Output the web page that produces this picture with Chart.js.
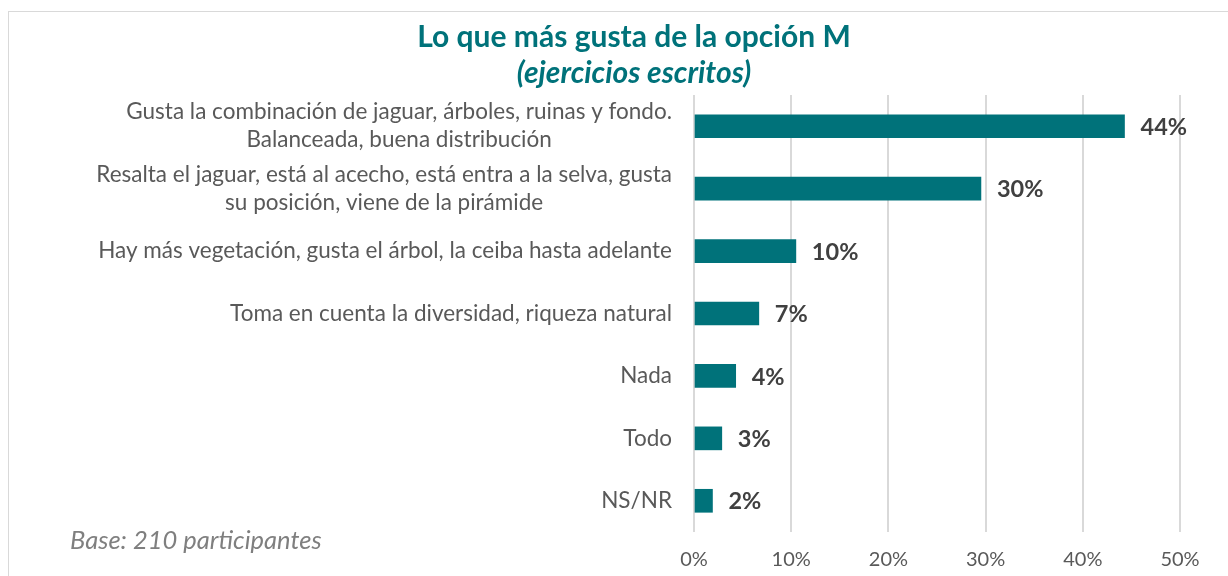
<!DOCTYPE html>
<html><head><meta charset="utf-8">
<script src="https://cdn.jsdelivr.net/npm/chart.js@4.4.0/dist/chart.umd.min.js"></script>
<style>
html,body{margin:0;padding:0;background:#fff;overflow:hidden}
#frame{position:absolute;left:8px;top:11px;width:1300px;height:700px;border:1px solid #d9d9d9;box-sizing:border-box}
#wrap{position:absolute;left:0;top:0;width:1228px;height:576px}
</style></head><body>
<div id="frame"></div>
<div id="wrap"><canvas id="c" width="1228" height="576"></canvas></div>
<script>
const categories = [
  ["Gusta la combinación de jaguar, árboles, ruinas y fondo.", "Balanceada, buena distribución"],
  ["Resalta el jaguar, está al acecho, está entra a la selva, gusta", "su posición, viene de la pirámide"],
  ["Hay más vegetación, gusta el árbol, la ceiba hasta adelante"],
  ["Toma en cuenta la diversidad, riqueza natural"],
  ["Nada"],
  ["Todo"],
  ["NS/NR"]
];
const values = [44.29, 29.52, 10.48, 6.67, 4.29, 2.86, 1.90];
const xTickValues = [0, 10, 20, 30, 40, 50];
const titleText = "Lo que más gusta de la opción M";
const subtitleText = "(ejercicios escritos)";
const baseNote = "Base: 210 participantes";

const TEAL = '#00727A';
const FONT = 'Lato';

const yLabelPlugin = {
  id: 'yLabels',
  afterDraw(chart) {
    const ctx = chart.ctx, ys = chart.scales.y;
    ctx.save();
    ctx.font = '22.5px ' + FONT;
    ctx.fillStyle = '#595959';
    ctx.textBaseline = 'middle';
    ctx.textAlign = 'center';
    const right = chart.chartArea.left - 22;
    chart.data.labels.forEach((lines, i) => {
      const cy = ys.getPixelForTick(i);
      const maxW = Math.max(...lines.map(l => ctx.measureText(l).width));
      const cx = right - maxW / 2;
      lines.forEach((l, j) => ctx.fillText(l, cx, cy + (j - (lines.length - 1) / 2) * 28));
    });
    ctx.restore();
  }
};

const valueLabelPlugin = {
  id: 'valueLabels',
  afterDatasetsDraw(chart) {
    const ctx = chart.ctx;
    const meta = chart.getDatasetMeta(0);
    ctx.save();
    ctx.font = 'bold 23.5px ' + FONT;
    ctx.fillStyle = '#404040';
    ctx.textBaseline = 'middle';
    ctx.textAlign = 'left';
    meta.data.forEach((el, i) => {
      const v = chart.data.datasets[0].data[i];
      ctx.fillText(Math.round(v) + '%', el.x + 16, el.y + 1);
    });
    ctx.restore();
  }
};

const notePlugin = {
  id: 'note',
  afterDraw(chart) {
    const ctx = chart.ctx;
    ctx.save();
    ctx.font = 'italic 25.5px ' + FONT;
    ctx.fillStyle = '#7f7f7f';
    ctx.textBaseline = 'middle';
    ctx.textAlign = 'left';
    ctx.fillText(baseNote, 70, 541);
    ctx.restore();
  }
};

new Chart(document.getElementById('c'), {
  type: 'bar',
  data: {
    labels: categories,
    datasets: [{
      data: values,
      backgroundColor: TEAL,
      barThickness: 23
    }]
  },
  options: {
    indexAxis: 'y',
    responsive: false,
    animation: false,
    layout: { padding: { left: 88, right: 48, top: 19, bottom: 0 } },
    plugins: {
      legend: { display: false },
      tooltip: { enabled: false },
      title: {
        display: true, text: titleText, color: TEAL,
        font: { family: FONT, size: 30, weight: 'bold' },
        padding: { top: 0, bottom: 0 }
      },
      subtitle: {
        display: true, text: subtitleText, color: TEAL,
        font: { family: FONT, size: 30, weight: 'bold', style: 'italic' },
        padding: { top: 0, bottom: 4 }
      }
    },
    scales: {
      x: {
        min: 0, max: 50,
        afterBuildTicks(s) { s.ticks = xTickValues.map(v => ({ value: v })); },
        ticks: { callback: v => v + '%', color: '#595959', font: { family: FONT, size: 20 }, padding: 16 },
        grid: { color: '#d9d9d9', lineWidth: 2, drawTicks: false },
        border: { display: false },
        afterFit(s) { s.height = 44; }
      },
      y: {
        ticks: { display: false },
        grid: { display: false },
        border: { display: false },
        afterFit(s) { s.width = 606; }
      }
    }
  },
  plugins: [yLabelPlugin, valueLabelPlugin, notePlugin]
});
</script>
</body></html>
